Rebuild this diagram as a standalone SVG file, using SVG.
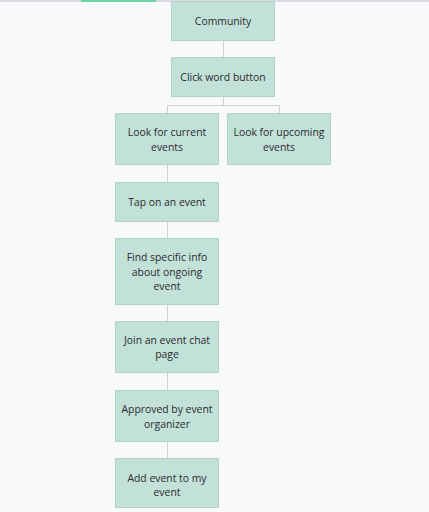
<svg xmlns="http://www.w3.org/2000/svg" width="429" height="512" viewBox="0 0 429 512">
<style>
.box{fill:#c2e1d9;stroke:#b4d2c9;stroke-width:1}
.t{font-family:"Open Sans","Noto Sans",sans-serif;font-size:10.4px;fill:#2b2b2b;text-anchor:middle}
.c{stroke:#cdd1d4;stroke-width:1;fill:none}
</style>
<rect width="429" height="512" fill="#f8f9fb"/>
<rect x="0" y="0" width="429" height="2" fill="#d9dbe0"/>
<rect x="81" y="0" width="75" height="2" fill="#6fd3a3"/>
<g id="connectors">
<path class="c" d="M223.5 41V57M223.5 97V105.5M167.5 105.5H279.5M167.5 105.5V113M279.5 105.5V113M167.5 165V182M167.5 222V238M167.5 305V321M167.5 373V390M167.5 442V458"/>
</g>
<g id="n1"><rect class="box" x="171.5" y="1.5" width="103" height="39"/><text class="t" x="223" y="25">Community</text></g>
<g id="n2"><rect class="box" x="171.5" y="57.5" width="103" height="39"/><text class="t" x="223" y="81">Click word button</text></g>
<g id="n3"><rect class="box" x="115.5" y="113.5" width="103" height="51"/><text class="t" x="167" y="136.3">Look for current</text><text class="t" x="167" y="150.7">events</text></g>
<g id="n4"><rect class="box" x="227.5" y="113.5" width="103" height="51"/><text class="t" x="279" y="136.3">Look for upcoming</text><text class="t" x="279" y="150.7">events</text></g>
<g id="n5"><rect class="box" x="115.5" y="182.5" width="103" height="39"/><text class="t" x="167" y="206">Tap on an event</text></g>
<g id="n6"><rect class="box" x="115.5" y="238.5" width="103" height="66"/><text class="t" x="167" y="261.3">Find specific info</text><text class="t" x="167" y="275.7">about ongoing</text><text class="t" x="167" y="290">event</text></g>
<g id="n7"><rect class="box" x="115.5" y="321.5" width="103" height="51"/><text class="t" x="167" y="344">Join an event chat</text><text class="t" x="167" y="358.4">page</text></g>
<g id="n8"><rect class="box" x="115.5" y="390.5" width="103" height="51"/><text class="t" x="167" y="413.4">Approved by event</text><text class="t" x="167" y="427.8">organizer</text></g>
<g id="n9"><rect class="box" x="115.5" y="458.5" width="103" height="49"/><text class="t" x="167" y="481.8">Add event to my</text><text class="t" x="167" y="496.2">event</text></g>
</svg>
